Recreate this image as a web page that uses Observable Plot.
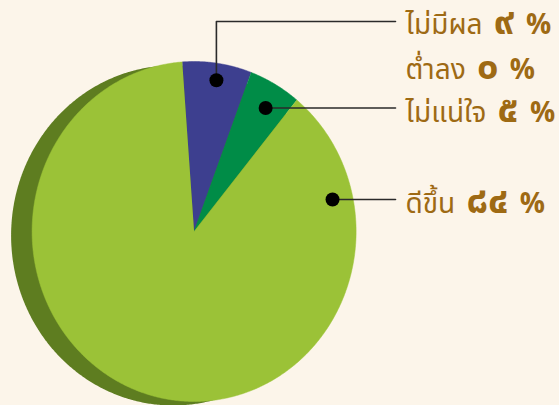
<!DOCTYPE html>
<html><head><meta charset="utf-8">
<script src="https://cdn.jsdelivr.net/npm/d3@7"></script>
<script src="https://cdn.jsdelivr.net/npm/@observablehq/plot@0.6"></script>
<style>
html,body{margin:0;padding:0;background:#FCF5EA;}
#chart{width:559px;height:405px;overflow:hidden;}
</style></head><body><div id="chart"></div>
<script>
// ---- data ----
const categories = ["ไม่มีผล", "ต่ำลง", "ไม่แน่ใจ", "ดีขึ้น"];
const labelValues = ["๙", "๐", "๕", "๘๔"];          // printed percentages (Thai numerals)
const sliceShares = [6.9, 0, 5.2, 87.9];            // slice sizes as drawn (%)
const sliceColors = ["#3D3F8F", "#C0392B", "#008C47", "#9BC237"];
const anchorAngles = [8.8, null, 31.3, 77.6];        // leader dot angle (deg, clockwise from top)
const anchorRadius = [0.9, null, 0.85, 0.875];       // leader dot radius (fraction)
const leaderRowsPx = [21, 65, 108, 199];             // leader line rows (px)
const textBaselinePx = [33, 78, 121, 212];           // label baselines (px)

// ---- layout ----
const W = 559, H = 405;
const xRange = [31.6, 355.6], yRange = [401, 61];
const xs = d3.scaleLinear([-1, 1], xRange), ys = d3.scaleLinear([-1, 1], yRange);
const startDeg = -4.2;
const textX = xs.invert(405), leaderEndX = xs.invert(395);

const pie = d3.pie().sort(null).value(d => d)
  .startAngle(startDeg * Math.PI / 180).endAngle((startDeg + 360) * Math.PI / 180);
const arcs = pie(sliceShares);

function wedge(a0, a1) {
  const pts = [{x: 0, y: 0}];
  const n = Math.max(2, Math.ceil((a1 - a0) / (Math.PI / 360)));
  for (let k = 0; k <= n; k++) {
    const a = a0 + (a1 - a0) * k / n;
    pts.push({x: Math.sin(a), y: Math.cos(a)});
  }
  return pts;
}
const full = wedge(0, 2 * Math.PI).slice(1);

const sliceMarks = arcs.filter(a => a.endAngle > a.startAngle).map(a =>
  Plot.line(wedge(a.startAngle, a.endAngle), {x: "x", y: "y", fill: sliceColors[a.index], stroke: sliceColors[a.index], strokeWidth: 0.5, curve: "linear"}));

const anchors = categories.map((c, i) => anchorAngles[i] == null ? null : {
  i, x: anchorRadius[i] * Math.sin(anchorAngles[i] * Math.PI / 180),
  y: anchorRadius[i] * Math.cos(anchorAngles[i] * Math.PI / 180)
}).filter(d => d);

const leaders = anchors.map(a => {
  const ly = ys.invert(leaderRowsPx[a.i]);
  return Math.abs(ly - a.y) > 0.03
    ? [{x: a.x, y: a.y}, {x: a.x, y: ly}, {x: leaderEndX, y: ly}]
    : [{x: a.x, y: a.y}, {x: leaderEndX, y: a.y}];
});

const labels = categories.map((c, i) => ({name: c, value: labelValues[i], x: textX, y: ys.invert(textBaselinePx[i])}));

const chart = Plot.plot({
  width: W, height: H,
  margin: 0,
  style: {background: "#FCF5EA", overflow: "visible"},
  x: {domain: [-1, 1], range: xRange, axis: null},
  y: {domain: [-1, 1], range: yRange, axis: null},
  marks: [
    Plot.line(full, {x: "x", y: "y", fill: "#5E7D20", stroke: "none", dx: -21, dy: 4}),
    ...sliceMarks,
    ...leaders.map(l => Plot.line(l, {x: "x", y: "y", stroke: "#2a2a2a", strokeWidth: 1.6})),
    Plot.dot(anchors, {x: "x", y: "y", r: 7, fill: "#000", stroke: "none"}),
    Plot.text(labels, {x: "x", y: "y", text: "name", textAnchor: "start", lineAnchor: "bottom", fill: "#9E6A14",
      fontSize: 28, fontFamily: "'Noto Sans Thai', 'Noto Sans', sans-serif"})
  ]
});

d3.select(chart).selectAll("g[aria-label='text'] text").each(function(_, i) {
  const t = d3.select(this);
  t.text(categories[i] + " ");
  t.append("tspan").attr("font-weight", "bold").attr("font-size", 38).attr("dx", 4).text(labelValues[i]);
  t.append("tspan").attr("font-weight", "bold").attr("dx", 4).text(" %");
});
document.getElementById("chart").append(chart);
</script></body></html>
